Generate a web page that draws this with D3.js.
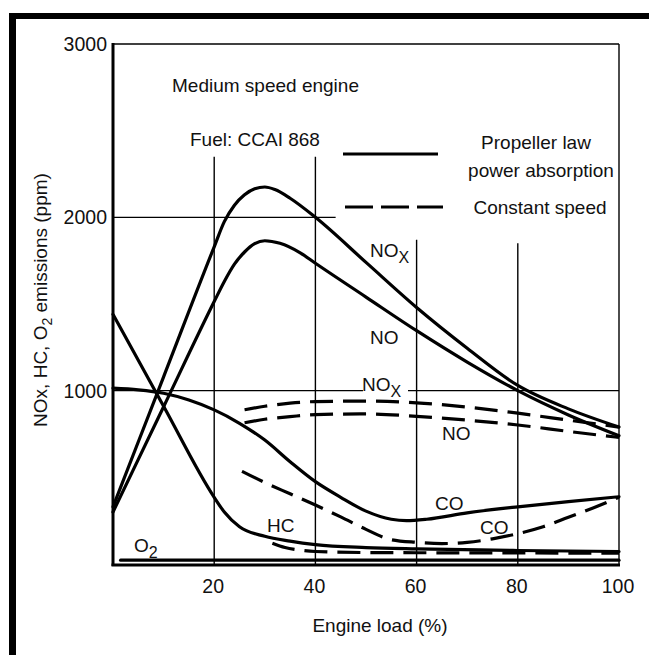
<!DOCTYPE html>
<html>
<head>
<meta charset="utf-8">
<title>Medium speed engine emissions</title>
<script src="https://d3js.org/d3.v7.min.js"></script>
<style>
body { margin: 0; background: #fff; }
svg { display: block; font-family: "Liberation Sans", Arial, sans-serif; }
.lbl { font-size: 19px; fill: #111; }
.tick { font-size: 19.5px; fill: #111; }
</style>
</head>
<body>
<script>
// values (load %, ppm)
var xTicks = [20, 40, 60, 80, 100];
var yTicks = [1000, 2000, 3000];

var noxPropeller = [[0,330],[10,1080],[20,1830],[22,1975],[24,2070],[26,2130],[28,2165],[30,2175],[32,2160],[35,2110],[40,2000],[50,1740],[60,1480],[70,1245],[80,1030],[90,895],[100,790]];
var noPropeller  = [[0,300],[10,907],[20,1514],[22,1630],[24,1730],[26,1800],[28,1848],[30,1865],[33,1850],[37,1795],[40,1735],[50,1540],[60,1346],[70,1165],[80,1000],[90,860],[100,740]];
var coPropeller  = [[0,1015],[5,1005],[10,985],[15,946],[20,889],[25,812],[30,715],[35,590],[40,475],[45,385],[50,305],[55,258],[58,250],[62,258],[70,295],[80,330],[90,360],[100,388]];
var hcPropeller  = [[0,1440],[10,910],[20,385],[22,300],[25,215],[30,160],[35,132],[40,112],[50,95],[60,87],[80,78],[100,72]];
var o2Line       = [[1.5,22],[100,22]];

var noxConstant = [[26,890],[30,910],[35,928],[40,937],[50,940],[60,930],[70,905],[80,870],[90,830],[100,790]];
var noConstant  = [[26,815],[30,835],[35,850],[40,862],[50,866],[60,852],[70,830],[80,802],[90,765],[100,730]];
var coConstant  = [[25.5,535],[30,470],[35,405],[40,340],[45,272],[50,200],[55,140],[60,125],[65,118],[70,125],[75,145],[80,175],[85,215],[90,270],[95,325],[100,385]];
var hcConstant  = [[31.5,120],[34,95],[37,80],[40,72],[50,66],[60,65],[80,64],[100,62]];

var width = 649, height = 655;
var svg = d3.select("body").append("svg")
  .attr("width", width).attr("height", height);

// outer frame of the scanned figure
svg.append("rect").attr("x", 9).attr("y", 13).attr("width", 7).attr("height", height - 13).attr("fill", "#000");
svg.append("rect").attr("x", 9).attr("y", 13).attr("width", width - 9).attr("height", 6).attr("fill", "#000");

var x = d3.scaleLinear().domain([0, 100]).range([113, 619]);
var y = d3.scaleLinear().domain([0, 3000]).range([564, 44]);

var grid = svg.append("g").attr("stroke", "#000").attr("stroke-width", 1.4);
// partial grid lines, as drawn in the original
grid.append("line").attr("x1", x(20)).attr("x2", x(20)).attr("y1", y(2350)).attr("y2", y(0));
grid.append("line").attr("x1", x(40)).attr("x2", x(40)).attr("y1", y(2350)).attr("y2", y(0));
grid.append("line").attr("x1", x(60)).attr("x2", x(60)).attr("y1", y(1870)).attr("y2", y(0));
grid.append("line").attr("x1", x(80)).attr("x2", x(80)).attr("y1", y(1850)).attr("y2", y(0));
grid.append("line").attr("x1", x(0)).attr("x2", x(44)).attr("y1", y(2000)).attr("y2", y(2000));
grid.append("line").attr("x1", x(0)).attr("x2", x(49.4)).attr("y1", y(1000)).attr("y2", y(1000));
grid.append("line").attr("x1", x(58.3)).attr("x2", x(100)).attr("y1", y(1000)).attr("y2", y(1000));
// top and right of the frame
grid.append("line").attr("x1", x(0)).attr("x2", x(100)).attr("y1", y(3000)).attr("y2", y(3000));
grid.append("line").attr("x1", x(100)).attr("x2", x(100)).attr("y1", y(3000)).attr("y2", y(0));

// main axes (thick)
svg.append("line").attr("x1", x(0)).attr("x2", x(0)).attr("y1", y(3000) - 1).attr("y2", y(0) + 2)
  .attr("stroke", "#000").attr("stroke-width", 3);
svg.append("line").attr("x1", x(0) - 1.5).attr("x2", x(100) + 1).attr("y1", y(0) + 1).attr("y2", y(0) + 1)
  .attr("stroke", "#000").attr("stroke-width", 3);

svg.selectAll(".ytick").data(yTicks).enter().append("text")
  .attr("class", "tick").attr("x", x(0) - 6).attr("y", function(d) { return y(d) + 7; })
  .attr("text-anchor", "end").text(function(d) { return d; });
svg.selectAll(".xtick").data(xTicks).enter().append("text")
  .attr("class", "tick").attr("x", function(d) { return x(d) - 1; }).attr("y", 593)
  .attr("text-anchor", "middle").text(function(d) { return d; });

var line = d3.line()
  .x(function(d) { return x(d[0]); })
  .y(function(d) { return y(d[1]); })
  .curve(d3.curveMonotoneX);

var curves = svg.append("g").attr("fill", "none").attr("stroke", "#000")
  .attr("stroke-width", 3.2).attr("stroke-linecap", "round");
[noxPropeller, noPropeller, coPropeller, hcPropeller, o2Line].forEach(function(s) {
  curves.append("path").attr("d", line(s));
});
[noxConstant, noConstant, coConstant, hcConstant].forEach(function(s) {
  curves.append("path").attr("d", line(s)).attr("stroke-dasharray", "23,10").attr("stroke-linecap", "butt");
});

// text on the chart
function label(px, py, main, sub) {
  var t = svg.append("text").attr("class", "lbl").attr("x", px).attr("y", py);
  t.append("tspan").text(main);
  if (sub) t.append("tspan").attr("dy", 6).attr("font-size", 16).text(sub);
  return t;
}
label(172, 92, "Medium speed engine");
label(190, 146, "Fuel:  CCAI 868");
label(370, 257, "NO", "X");
label(370, 344, "NO");
label(362, 391, "NO", "X");
label(442, 440, "NO");
label(435, 510, "CO");
label(480, 534, "CO");
label(267, 532, "HC");
label(134, 552, "O", "2");

// legend
svg.append("line").attr("x1", 343).attr("x2", 438).attr("y1", 154).attr("y2", 154)
  .attr("stroke", "#000").attr("stroke-width", 3.2);
svg.append("line").attr("x1", 345).attr("x2", 443).attr("y1", 207).attr("y2", 207)
  .attr("stroke", "#000").attr("stroke-width", 3.2).attr("stroke-dasharray", "28,8");
svg.append("text").attr("class", "lbl").attr("x", 536).attr("y", 149).attr("text-anchor", "middle").text("Propeller law");
svg.append("text").attr("class", "lbl").attr("x", 541).attr("y", 177).attr("text-anchor", "middle").text("power absorption");
svg.append("text").attr("class", "lbl").attr("x", 540).attr("y", 214).attr("text-anchor", "middle").text("Constant speed");

// axis titles
svg.append("text").attr("class", "lbl").attr("x", 380).attr("y", 632).attr("text-anchor", "middle").text("Engine load (%)");
var yt = svg.append("text").attr("class", "lbl").attr("font-size", 18).attr("text-anchor", "middle")
  .attr("transform", "translate(47,300) rotate(-90)");
yt.append("tspan").text("NOx, HC, O");
yt.append("tspan").attr("dy", 5).attr("font-size", 14).text("2");
yt.append("tspan").attr("dy", -5).text(" emissions (ppm)");
</script>
</body>
</html>
